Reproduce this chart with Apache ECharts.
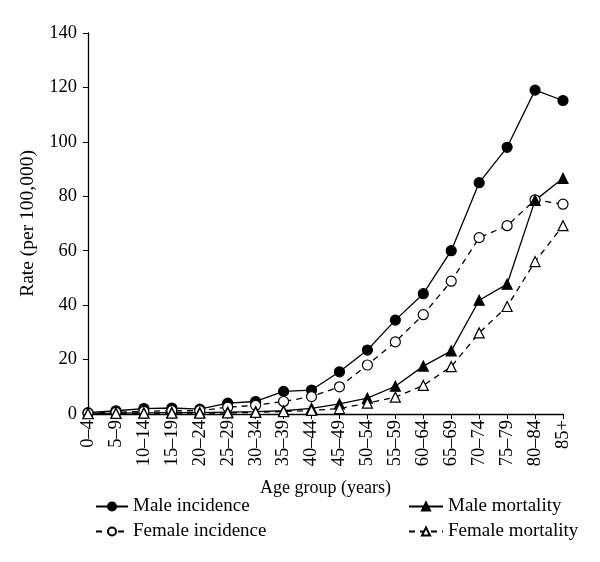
<!DOCTYPE html>
<html>
<head>
<meta charset="utf-8">
<script src="https://cdn.jsdelivr.net/npm/echarts@6/dist/echarts.min.js"></script>
<style>html,body{margin:0;padding:0;background:#fff;}#c{width:600px;height:562px;}</style>
</head>
<body>
<div id="c"></div>
<script>
var categories = ['0–4','5–9','10–14','15–19','20–24','25–29','30–34','35–39','40–44','45–49','50–54','55–59','60–64','65–69','70–74','75–79','80–84','85+'];
var maleIncidence   = [0.5, 1.2, 2.0, 2.2, 1.8, 4.0, 4.6, 8.3, 8.8, 15.5, 23.5, 34.5, 44.2, 60, 85, 98, 119, 115.2];
var femaleIncidence = [0.3, 0.6, 1.0, 1.2, 1.2, 2.5, 3.2, 4.6, 6.4, 10, 18, 26.5, 36.5, 48.8, 64.8, 69.2, 78.7, 77.1];
var maleMortality   = [0.2, 0.3, 0.4, 0.5, 0.5, 0.7, 0.9, 1.2, 2.1, 3.7, 5.8, 10.2, 17.6, 23.2, 41.8, 47.7, 78.5, 86.6];
var femaleMortality = [0.1, 0.2, 0.3, 0.3, 0.3, 0.4, 0.6, 0.9, 1.3, 2.0, 4.0, 6.2, 10.5, 17.4, 29.8, 39.5, 56.0, 69.2];
var yTicks = [0, 20, 40, 60, 80, 100, 120, 140];

var FONT = '"Liberation Serif", "DejaVu Serif", serif';
var chart = echarts.init(document.getElementById('c'), null, {renderer: 'canvas'});
function mk(name, data, symbol, filled, dashed) {
  return {
    name: name, type: 'line', data: data,
    symbol: symbol, symbolSize: 10,
    showAllSymbol: true,
    lineStyle: {color: '#000', width: 1.3, type: dashed ? [6, 5] : 'solid'},
    itemStyle: {color: filled ? '#000' : '#fff', borderColor: '#000', borderWidth: 1.2},
    emphasis: {disabled: true},
    animation: false
  };
}
var legText = {fontFamily: FONT, fontSize: 19, color: '#000'};
chart.setOption({
  backgroundColor: '#fff',
  animation: false,
  textStyle: {fontFamily: FONT, color: '#000'},
  grid: {left: 88, right: 37, top: 33, bottom: 148, containLabel: false},
  legend: [
    {left: 90, top: 492, orient: 'vertical', itemGap: 6, itemWidth: 32, itemHeight: 10,
     textStyle: legText, data: ['Male incidence', 'Female incidence']},
    {left: 403, top: 492, orient: 'vertical', itemGap: 6, itemWidth: 34, itemHeight: 10,
     textStyle: legText, data: ['Male mortality', 'Female mortality']}
  ],
  xAxis: {
    type: 'category', data: categories, boundaryGap: false,
    name: 'Age group (years)', nameLocation: 'middle', nameGap: 65,
    nameTextStyle: {fontFamily: FONT, fontSize: 18, color: '#000'},
    axisLine: {lineStyle: {color: '#000', width: 1.3}},
    axisTick: {show: true, alignWithLabel: true, length: 5, lineStyle: {color: '#000'}},
    axisLabel: {rotate: 90, fontFamily: FONT, fontSize: 18.5, color: '#000', margin: 6, interval: 0}
  },
  yAxis: {
    type: 'value', min: 0, max: 140, interval: 20,
    name: 'Rate (per 100,000)', nameLocation: 'middle', nameGap: 42, nameRotate: 90,
    nameTextStyle: {fontFamily: FONT, fontSize: 19.5, color: '#000'},
    splitLine: {show: false},
    axisLine: {show: true, lineStyle: {color: '#000', width: 1.3}},
    axisTick: {show: true, length: 5, lineStyle: {color: '#000'}},
    axisLabel: {fontFamily: FONT, fontSize: 18.5, color: '#000', margin: 11,
      formatter: function (v) { return yTicks.indexOf(v) >= 0 ? String(v) : ''; }}
  },
  series: [
    mk('Male incidence', maleIncidence, 'circle', true, false),
    mk('Female incidence', femaleIncidence, 'circle', false, true),
    mk('Male mortality', maleMortality, 'triangle', true, false),
    mk('Female mortality', femaleMortality, 'triangle', false, true)
  ]
});
</script>
</body>
</html>
